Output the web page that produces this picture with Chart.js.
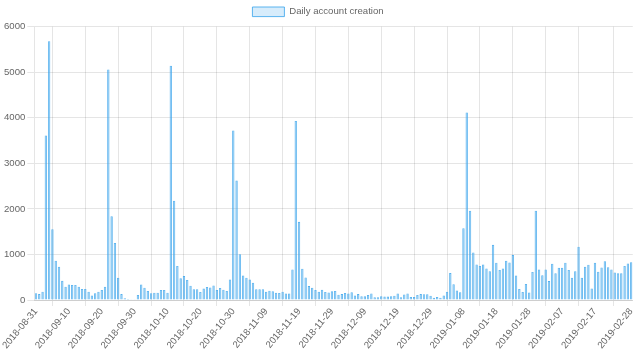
<!DOCTYPE html>
<html>
<head>
<meta charset="utf-8">
<script src="https://cdn.jsdelivr.net/npm/chart.js@4"></script>
<style>
  html, body { margin: 0; padding: 0; background: #fff; }
  #wrap { width: 640px; height: 361px; position: relative; }
</style>
</head>
<body>
<div id="wrap"><canvas id="c"></canvas></div>
<script>
// Categories: one per day, 2018-08-31 .. 2019-02-28
const startDate = '2018-08-31';
const endDate = '2019-02-28';
const seriesLabel = 'Daily account creation';

// Daily account creation values
const dailyAccounts = [
  150, 130, 180, 3610, 5680, 1555, 860, 730, 420, 290,
  340, 330, 330, 290, 240, 240, 180, 100, 150, 180,
  220, 290, 5060, 1840, 1250, 490, 130, 40, 20, 15,
  15, 110, 340, 270, 200, 150, 160, 160, 220, 220,
  160, 5140, 2180, 745, 475, 525, 440, 315, 235, 235,
  175, 250, 285, 275, 320, 220, 265, 225, 200, 450,
  3720, 2620, 1005, 540, 490, 450, 380, 235, 235, 235,
  180, 205, 190, 160, 155, 180, 145, 145, 670, 3930,
  1715, 685, 495, 305, 270, 220, 180, 225, 175, 165,
  190, 200, 118, 130, 155, 145, 170, 100, 130, 80,
  80, 110, 145, 60, 60, 80, 75, 75, 80, 95,
  145, 62, 120, 145, 65, 65, 110, 130, 125, 125,
  95, 50, 65, 50, 98, 180, 590, 345, 210, 170,
  1575, 4115, 1960, 1045, 780, 745, 780, 690, 630, 1210,
  820, 660, 690, 860, 825, 985, 540, 240, 175, 350,
  165, 615, 1960, 670, 545, 670, 415, 795, 585, 710,
  710, 820, 660, 490, 630, 1170, 490, 730, 775, 255,
  820, 620, 715, 850, 720, 670, 605, 585, 585, 745,
  800, 830
];

// Tick labels shown on the x axis
const tickLabels = [
  '2018-08-31', '2018-09-10', '2018-09-20', '2018-09-30', '2018-10-10',
  '2018-10-20', '2018-10-30', '2018-11-09', '2018-11-19', '2018-11-29',
  '2018-12-09', '2018-12-19', '2018-12-29', '2019-01-08', '2019-01-18',
  '2019-01-28', '2019-02-07', '2019-02-17', '2019-02-28'
];

// Y ticks
const yMin = 0, yMax = 6000, yStep = 1000;

function pad(n) { return (n < 10 ? '0' : '') + n; }
const categories = [];
{
  const d = new Date(startDate + 'T00:00:00Z');
  const end = new Date(endDate + 'T00:00:00Z');
  while (d <= end) {
    categories.push(d.getUTCFullYear() + '-' + pad(d.getUTCMonth() + 1) + '-' + pad(d.getUTCDate()));
    d.setUTCDate(d.getUTCDate() + 1);
  }
}
const tickSet = new Set(tickLabels);

const FONT = "Arial, 'Liberation Sans', Helvetica, sans-serif";
Chart.defaults.font.family = FONT;
Chart.defaults.font.size = 9.6;
Chart.defaults.color = '#666';

new Chart(document.getElementById('c'), {
  type: 'bar',
  data: {
    labels: categories,
    datasets: [{
      label: seriesLabel,
      data: dailyAccounts,
      backgroundColor: 'rgba(54,162,235,0.55)',
      borderColor: 'rgba(54,162,235,0.85)',
      borderWidth: 0.8
    }]
  },
  options: {
    responsive: true,
    maintainAspectRatio: false,
    animation: false,
    layout: { padding: { left: 2, right: 6, top: 0, bottom: 10 } },
    plugins: {
      legend: {
        position: 'top',
        labels: {
          boxWidth: 32, boxHeight: 9.6, padding: 7, color: '#666', font: { size: 9.6 },
          generateLabels: function (chart) {
            const ds = chart.data.datasets[0];
            return [{
              text: ds.label,
              fillStyle: 'rgba(54,162,235,0.2)',
              strokeStyle: 'rgba(54,162,235,0.8)',
              lineWidth: 1,
              fontColor: '#666',
              hidden: false,
              datasetIndex: 0
            }];
          }
        }
      },
      tooltip: { enabled: false }
    },
    scales: {
      x: {
        grid: { color: 'rgba(0,0,0,0.1)', tickLength: 6, offset: true },
        border: { color: 'rgba(0,0,0,0.1)' },
        ticks: {
          autoSkip: false,
          minRotation: 50,
          maxRotation: 50,
          padding: 0,
          color: '#666',
          callback: function (value, index) {
            const lab = this.getLabelForValue(value);
            return tickSet.has(lab) ? lab : null;
          }
        }
      },
      y: {
        min: yMin,
        max: yMax,
        grid: { color: 'rgba(0,0,0,0.1)', tickLength: 7 },
        border: { color: 'rgba(0,0,0,0.1)' },
        ticks: { stepSize: yStep, padding: 2, color: '#666', callback: v => String(v) }
      }
    }
  }
});
</script>
</body>
</html>
